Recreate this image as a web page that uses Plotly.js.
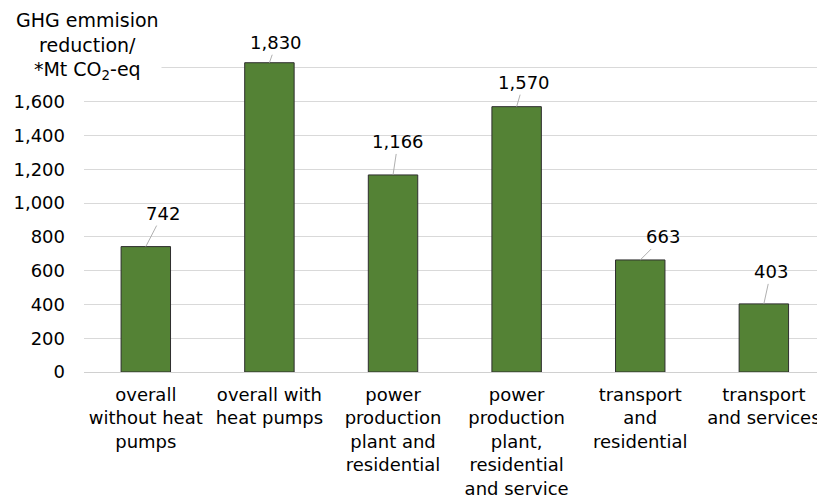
<!DOCTYPE html>
<html>
<head>
<meta charset="utf-8">
<script src="https://cdn.plot.ly/plotly-3.0.1.min.js"></script>
<style>
html,body{margin:0;padding:0;background:#fff;overflow:hidden;}
#chart{width:817px;height:497px;}
</style>
</head>
<body>
<div id="chart"></div>
<script>
// Data
var categories = [
  "overall<br>without heat<br>pumps",
  "overall with<br>heat pumps",
  "power<br>production<br>plant and<br>residential",
  "power<br>production<br>plant,<br>residential<br>and service",
  "transport<br>and<br>residential",
  "transport<br>and services"
];
var values = [742, 1830, 1166, 1570, 663, 403];
var yTickVals = [0, 200, 400, 600, 800, 1000, 1200, 1400, 1600];
var yTickText = ["0", "200", "400", "600", "800", "1,000", "1,200", "1,400", "1,600"];
var yExtraGrid = [1800, 2000];
var yTitle = "GHG emmision<br>reduction/<br>*Mt CO<sub>2</sub>-eq";

// label offsets (style, px) for the data labels' leader lines
var labelDX = [17, 7, 5, 7, 23, 7];
var labelDY = [-33, -20, -33, -24, -23, -32];

var FONT = "DejaVu Sans, Liberation Sans, Arial, sans-serif";

var trace = {
  type: "bar",
  x: categories,
  y: values,
  width: 0.4,
  marker: {color: "#548235", line: {color: "#2e2e2e", width: 1}},
  hoverinfo: "none"
};

var annotations = values.map(function (v, i) {
  return {
    x: categories[i], y: v, xref: "x", yref: "y",
    text: v.toLocaleString("en-US"),
    showarrow: true, arrowhead: 0, arrowwidth: 0.9, arrowcolor: "#a6a6a6",
    ax: labelDX[i], ay: labelDY[i], standoff: 0, startstandoff: 0,
    font: {family: FONT, size: 18, color: "#000"}
  };
});

annotations.push({
  xref: "paper", yref: "paper",
  x: 0.005, y: 1.082, xanchor: "center", yanchor: "top",
  text: yTitle, showarrow: false, align: "center",
  bgcolor: "#ffffff", borderpad: 2,
  font: {family: FONT, size: 19, color: "#000"}
});

var layout = {
  width: 817, height: 497,
  margin: {l: 84, r: 0, t: 34, b: 125, pad: 0},
  paper_bgcolor: "#fff", plot_bgcolor: "#fff",
  showlegend: false,
  font: {family: FONT, size: 18, color: "#000"},
  xaxis: {
    type: "category",
    range: [-0.5, 5.43],
    showgrid: false, zeroline: false,
    showline: false, ticks: "",
    tickangle: 0,
    tickfont: {family: FONT, size: 18, color: "#000"},
    ticklabelstandoff: 10,
    fixedrange: true
  },
  yaxis: {
    range: [0, 2000],
    tickmode: "array",
    tickvals: yTickVals, ticktext: yTickText,
    showgrid: true, gridcolor: "#d9d9d9", gridwidth: 1,
    minor: {tickmode: "array", tickvals: yExtraGrid, showgrid: true, gridcolor: "#d9d9d9", gridwidth: 1, ticks: ""},
    zeroline: true, zerolinecolor: "#d0d0d0", zerolinewidth: 1,
    showline: false, ticks: "",
    tickfont: {family: FONT, size: 18, color: "#000"},
    ticklabelstandoff: 18,
    fixedrange: true
  },
  annotations: annotations
};

Plotly.newPlot("chart", [trace], layout, {displayModeBar: false, staticPlot: true});
</script>
</body>
</html>
